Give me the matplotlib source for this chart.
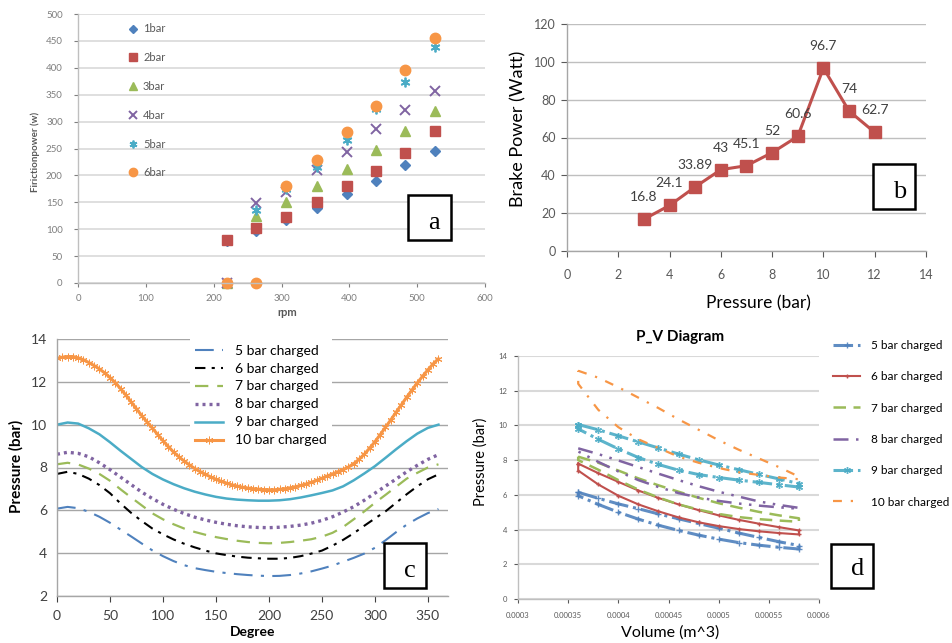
import matplotlib
matplotlib.use('Agg')
import matplotlib.pyplot as plt
from matplotlib.patches import Rectangle

plt.rcParams['font.family'] = ['Lato', 'DejaVu Sans']

# ---------------- Panel a: friction power ----------------
rpm = [219, 263, 307, 352, 396, 439, 482, 526]
fp_1bar = [78, 96, 117, 140, 165, 189, 219, 245]
fp_2bar = [80, 102, 122, 150, 181, 208, 241, 283]
fp_3bar = [0, 125, 151, 180, 212, 247, 282, 320]
fp_4bar = [0, 148, 170, 210, 243, 286, 321, 357]
fp_5bar = [0, 135, 174, 215, 265, 324, 373, 439]
fp_6bar = [0, 0, 181, 228, 280, 329, 396, 456]
a_labels = ['1bar', '2bar', '3bar', '4bar', '5bar', '6bar']

# ---------------- Panel b: brake power ----------------
pressure_b = [3, 4, 5, 6, 7, 8, 9, 10, 11, 12]
brake_power = [16.8, 24.1, 33.89, 43, 45.1, 52, 60.6, 96.7, 74, 62.7]

# ---------------- Panel c: pressure vs crank angle ----------------
degree_10 = [0, 10, 20, 30, 40, 50, 60, 70, 80, 90, 100, 110, 120, 130, 140, 150,
             160, 170, 180, 190, 200, 210, 220, 230, 240, 250, 260, 270, 280, 290,
             300, 310, 320, 330, 340, 350, 360]
p5_bar = [6.08, 6.16, 6.10, 5.93, 5.70, 5.42, 5.10, 4.78, 4.45, 4.13, 3.86, 3.63, 3.44,
          3.30, 3.21, 3.13, 3.07, 3.02, 2.98, 2.95, 2.93, 2.94, 2.98, 3.05, 3.15, 3.28,
          3.42, 3.60, 3.78, 3.98, 4.25, 4.60, 4.98, 5.33, 5.62, 5.87, 6.06]
p6_bar = [7.70, 7.80, 7.70, 7.48, 7.18, 6.80, 6.32, 5.88, 5.50, 5.15, 4.88, 4.64, 4.44,
          4.27, 4.12, 3.99, 3.91, 3.84, 3.79, 3.76, 3.74, 3.74, 3.78, 3.86, 3.98, 4.12,
          4.35, 4.62, 4.93, 5.28, 5.62, 5.95, 6.35, 6.75, 7.12, 7.45, 7.68]
p7_bar = [8.15, 8.22, 8.14, 7.95, 7.70, 7.38, 6.98, 6.60, 6.23, 5.86, 5.58, 5.35, 5.15,
          4.99, 4.86, 4.75, 4.66, 4.58, 4.52, 4.48, 4.46, 4.48, 4.52, 4.58, 4.65, 4.77,
          4.95, 5.22, 5.58, 5.95, 6.35, 6.72, 7.10, 7.48, 7.75, 8.00, 8.15]
p8_bar = [8.62, 8.71, 8.66, 8.50, 8.22, 7.90, 7.55, 7.20, 6.85, 6.55, 6.28, 6.05, 5.85,
          5.68, 5.55, 5.44, 5.35, 5.28, 5.23, 5.20, 5.19, 5.21, 5.25, 5.31, 5.40, 5.53,
          5.70, 5.92, 6.17, 6.47, 6.80, 7.13, 7.46, 7.80, 8.10, 8.38, 8.60]
p9_bar = [10.00, 10.10, 10.05, 9.83, 9.55, 9.18, 8.78, 8.40, 8.02, 7.70, 7.44, 7.22, 7.03,
          6.87, 6.74, 6.63, 6.55, 6.50, 6.47, 6.45, 6.45, 6.47, 6.52, 6.60, 6.70, 6.81,
          6.93, 7.12, 7.40, 7.72, 8.06, 8.45, 8.85, 9.23, 9.58, 9.85, 10.00]
degree_5 = [0, 5, 10, 15, 20, 25, 30, 35, 40, 45, 50, 55, 60, 65, 70, 75, 80, 85, 90, 95,
            100, 105, 110, 115, 120, 125, 130, 135, 140, 145, 150, 155, 160, 165, 170,
            175, 180, 185, 190, 195, 200, 205, 210, 215, 220, 225, 230, 235, 240, 245,
            250, 255, 260, 265, 270, 275, 280, 285, 290, 295, 300, 305, 310, 315, 320,
            325, 330, 335, 340, 345, 350, 355, 360]
p10_bar = [13.10, 13.15, 13.18, 13.18, 13.12, 13.03, 12.90, 12.76, 12.60, 12.42, 12.20,
           11.96, 11.68, 11.38, 11.06, 10.74, 10.42, 10.12, 9.84, 9.54, 9.25, 8.98, 8.72,
           8.50, 8.30, 8.12, 7.95, 7.81, 7.68, 7.56, 7.45, 7.35, 7.27, 7.19, 7.13, 7.08,
           7.04, 7.01, 6.99, 6.97, 6.96, 6.96, 6.98, 7.01, 7.05, 7.10, 7.16, 7.23, 7.31,
           7.40, 7.50, 7.60, 7.70, 7.80, 7.90, 8.02, 8.18, 8.38, 8.62, 8.90, 9.20, 9.53,
           9.88, 10.22, 10.58, 10.93, 11.28, 11.62, 11.95, 12.26, 12.56, 12.84, 13.08]
c_labels = ['5 bar charged', '6 bar charged', '7 bar charged', '8 bar charged',
            '9 bar charged', '10 bar charged']

# ---------------- Panel d: P-V diagram ----------------
volume = [0.00036, 0.00038, 0.00040, 0.00042, 0.00044, 0.00046, 0.00048, 0.00050,
          0.00052, 0.00054, 0.00056, 0.00058]
pv5_upper = [6.15, 5.80, 5.48, 5.20, 4.90, 4.62, 4.35, 4.08, 3.80, 3.55, 3.30, 3.08]
pv5_lower = [5.95, 5.45, 5.00, 4.60, 4.25, 3.95, 3.68, 3.45, 3.25, 3.10, 2.98, 2.88]
pv6_upper = [7.80, 7.25, 6.75, 6.25, 5.82, 5.45, 5.12, 4.82, 4.56, 4.34, 4.14, 3.95]
pv6_lower = [7.40, 6.60, 5.95, 5.45, 5.05, 4.70, 4.42, 4.20, 4.03, 3.90, 3.80, 3.72]
pv7_upper = [8.20, 7.85, 7.40, 6.95, 6.55, 6.18, 5.83, 5.52, 5.26, 5.02, 4.82, 4.65]
pv7_lower = [8.00, 7.45, 6.85, 6.30, 5.85, 5.45, 5.15, 4.90, 4.72, 4.60, 4.52, 4.45]
pv8_upper = [8.68, 8.35, 7.98, 7.60, 7.22, 6.85, 6.50, 6.18, 5.90, 5.62, 5.42, 5.25]
pv8_lower = [8.50, 7.90, 7.35, 6.85, 6.45, 6.10, 5.85, 5.65, 5.50, 5.38, 5.28, 5.20]
pv9_upper = [10.05, 9.75, 9.40, 9.05, 8.70, 8.35, 8.02, 7.72, 7.45, 7.18, 6.92, 6.65]
pv9_lower = [9.80, 9.20, 8.65, 8.15, 7.75, 7.42, 7.17, 7.00, 6.85, 6.72, 6.58, 6.45]
pv10_upper = [13.15, 12.75, 12.20, 11.60, 11.00, 10.35, 9.75, 9.15, 8.60, 8.10, 7.60, 7.05]
pv10_lower = [12.40, 10.90, 9.90, 9.20, 8.70, 8.20, 7.85, 7.55, 7.30, 7.15, 7.00, 6.90]
d_xticks = [0.0003, 0.00035, 0.0004, 0.00045, 0.0005, 0.00055, 0.0006]
d_xticklabels = ['0.0003', '0.00035', '0.0004', '0.00045', '0.0005', '0.00055', '0.0006']

# ---------------- figure ----------------
W, H = 953, 643
fig = plt.figure(figsize=(W / 100, H / 100), dpi=100)


def add_ax(l, t, r, b):
    return fig.add_axes([l / W, 1 - b / H, (r - l) / W, (b - t) / H])


def style_axes(ax, grid_color, spine_color, lw=1.0):
    ax.set_axisbelow(True)
    ax.grid(axis='y', color=grid_color, lw=lw)
    ax.grid(axis='x', visible=False)
    for s in ['top', 'right']:
        ax.spines[s].set_visible(False)
    for s in ['left', 'bottom']:
        ax.spines[s].set_color(spine_color)
        ax.spines[s].set_linewidth(1.0)


# ----- Panel a -----
axa = add_ax(78, 14, 485, 283)
a_series = [fp_1bar, fp_2bar, fp_3bar, fp_4bar, fp_5bar, fp_6bar]
a_styles = [('D', '#4F81BD', 5.5, 1.0), ('s', '#C0504D', 7, 1.0), ('^', '#9BBB59', 7, 1.0),
            ('x', '#8064A2', 7, 1.4), ((6, 2, 0), '#4BACC6', 7, 1.3), ('o', '#F79646', 7.5, 1.0)]
for vals, lab, (mk, col, ms, mew) in zip(a_series, a_labels, a_styles):
    axa.plot(rpm, vals, ls='none', marker=mk, color=col, ms=ms, mew=mew, label=lab,
             clip_on=False)
axa.set_xlim(0, 600)
axa.set_ylim(0, 500)
axa.set_xticks([0, 100, 200, 300, 400, 500, 600])
axa.set_yticks([0, 50, 100, 150, 200, 250, 300, 350, 400, 450, 500])
style_axes(axa, '#D9D9D9', '#BFBFBF', 1.2)
axa.tick_params(labelsize=7, colors='#7F7F7F', length=3, width=0.8)
axa.tick_params(axis='y', pad=8)
axa.tick_params(axis='x', pad=5)
axa.set_ylabel('Firictionpower (w)', fontsize=7, fontweight='bold', color='#595959')
axa.yaxis.set_label_coords(-0.106, 0.487)
axa.yaxis.label.set_va('center')
axa.set_xlabel('rpm', fontsize=8, fontweight='bold', color='#595959')
axa.xaxis.set_label_coords(0.513, -0.108)
axa.xaxis.label.set_va('center')
axa.legend(loc='upper left', bbox_to_anchor=(0.123, 0.965), frameon=False, fontsize=8,
           labelspacing=1.6, handlelength=0.9, handletextpad=0.45, borderpad=0,
           borderaxespad=0, labelcolor='#595959', markerscale=0.8)

# ----- Panel b -----
axb = add_ax(567, 24, 926, 251)
axb.plot(pressure_b, brake_power, color='#C0504D', lw=2.2, marker='s', ms=8)
for x, v in zip(pressure_b, brake_power):
    axb.annotate(f'{v:g}', (x, v), xytext=(0, 22), textcoords='offset pixels',
                 ha='center', va='center', fontsize=10, color='#404040')
axb.set_xlim(0, 14)
axb.set_ylim(0, 120)
axb.set_xticks([0, 2, 4, 6, 8, 10, 12, 14])
axb.set_yticks([0, 20, 40, 60, 80, 100, 120])
style_axes(axb, '#BFBFBF', '#A6A6A6', 1.0)
axb.tick_params(labelsize=9, colors='#595959', length=4, width=0.8)
axb.tick_params(axis='x', pad=9)
axb.tick_params(axis='y', pad=4)
axb.set_ylabel('Brake Power (Watt)', fontsize=13)
axb.yaxis.set_label_coords(-0.136, 0.537)
axb.yaxis.label.set_va('center')
axb.set_xlabel('Pressure (bar)', fontsize=12.5)
axb.xaxis.set_label_coords(0.532, -0.229)
axb.xaxis.label.set_va('center')

# ----- Panel c -----
axc = add_ax(57, 339, 448, 596)
c_series = [(degree_10, p5_bar), (degree_10, p6_bar), (degree_10, p7_bar),
            (degree_10, p8_bar), (degree_10, p9_bar), (degree_5, p10_bar)]
c_styles = [dict(color='#4F81BD', lw=1.5, ls=(0, (9, 4, 1.5, 4))),
            dict(color='black', lw=1.5, ls=(0, (5, 3, 1.5, 3))),
            dict(color='#9BBB59', lw=1.6, ls=(0, (6, 4))),
            dict(color='#8064A2', lw=2.4, ls=(0, (0.9, 1.2))),
            dict(color='#4BACC6', lw=1.8, ls='-'),
            dict(color='#F79646', lw=2.2, ls='-', marker=(6, 2, 0), ms=5.5, mew=0.7)]
for (xs, ys), lab, st in zip(c_series, c_labels, c_styles):
    axc.plot(xs, ys, label=lab, **st)
axc.set_xlim(0, 369)
axc.set_ylim(2, 14)
axc.set_xticks([0, 50, 100, 150, 200, 250, 300, 350])
axc.set_yticks([2, 4, 6, 8, 10, 12, 14])
style_axes(axc, '#A6A6A6', '#A6A6A6', 1.0)
axc.tick_params(labelsize=10, colors='#404040', length=4, width=0.8)
axc.tick_params(axis='x', pad=6)
axc.tick_params(axis='y', pad=7, length=0)
axc.set_ylabel('Pressure (bar)', fontsize=11, fontweight='bold')
axc.yaxis.set_label_coords(-0.105, 0.506)
axc.yaxis.label.set_va('center')
axc.set_xlabel('Degree', fontsize=10, fontweight='bold')
axc.xaxis.set_label_coords(0.501, -0.14)
axc.xaxis.label.set_va('center')
legc = axc.legend(loc='upper left', bbox_to_anchor=(0.339, 1.0), fontsize=10,
                  frameon=True, fancybox=False, edgecolor='none', facecolor='white',
                  framealpha=1, labelspacing=0.43, handlelength=2.0, handletextpad=0.85,
                  borderpad=0.4, borderaxespad=0)

# ----- Panel d -----
axd = add_ax(518, 356, 819, 599)
d_series = [(pv5_upper, pv5_lower), (pv6_upper, pv6_lower), (pv7_upper, pv7_lower),
            (pv8_upper, pv8_lower), (pv9_upper, pv9_lower), (pv10_upper, pv10_lower)]
d_styles = [dict(color='#4F81BD', lw=2.2, ls='-.', marker='+', ms=4, alpha=0.9),
            dict(color='#C0504D', lw=1.5, ls='-', marker='+', ms=3.5),
            dict(color='#9BBB59', lw=1.8, ls=(0, (5, 3))),
            dict(color='#8064A2', lw=1.8, ls=(0, (6, 3, 1, 3, 1, 3))),
            dict(color='#4BACC6', lw=2.2, ls='-.', marker=(6, 2, 0), ms=5, alpha=0.9),
            dict(color='#F79646', lw=1.6, ls=(0, (4, 4, 1, 4)))]
for (up, lo), lab, st in zip(d_series, c_labels, d_styles):
    xs = volume + volume[::-1] + [volume[0]]
    ys = up + lo[::-1] + [up[0]]
    axd.plot(xs, ys, label=lab, **st)
axd.set_xlim(0.0003, 0.0006)
axd.set_ylim(0, 14)
axd.set_xticks(d_xticks)
axd.set_xticklabels(d_xticklabels)
axd.set_yticks([0, 2, 4, 6, 8, 10, 12, 14])
style_axes(axd, '#D9D9D9', '#BFBFBF', 1.5)
axd.tick_params(labelsize=5.5, colors='#595959', length=3, width=0.8)
axd.tick_params(axis='x', pad=6)
axd.tick_params(axis='y', pad=5)
axd.set_ylabel('Pressure (bar)', fontsize=10.5)
axd.yaxis.set_label_coords(-0.126, 0.566)
axd.yaxis.label.set_va('center')
axd.set_xlabel('Volume (m^3)', fontsize=11.5)
axd.xaxis.set_label_coords(0.505, -0.136)
axd.xaxis.label.set_va('center')
axd.text(0.538, 1.078, 'P_V Diagram', transform=axd.transAxes, ha='center', va='center',
         fontsize=11, fontweight='bold')
fig.legend(*axd.get_legend_handles_labels(), loc='upper left',
           bbox_to_anchor=(833 / W, 1 - 340 / H), frameon=False, fontsize=8.5,
           labelspacing=1.72, handlelength=2.3, handletextpad=0.9, borderpad=0,
           borderaxespad=0)

# ----- letter boxes -----
boxes = [('a', 408, 195, 451, 240, 434, 223), ('b', 873, 164, 915, 209, 900, 192),
         ('c', 384, 543, 426, 588, 410, 571), ('d', 831, 544, 873, 588, 858, 569)]
for letter, l, t, r, b, tx, ty in boxes:
    fig.patches.append(Rectangle((l / W, 1 - b / H), (r - l) / W, (b - t) / H,
                                 transform=fig.transFigure, facecolor='white',
                                 edgecolor='black', lw=1.8, zorder=5))
    fig.text(tx / W, 1 - ty / H, letter, ha='center', va='center', fontsize=19,
             family=['Liberation Serif', 'DejaVu Serif'], zorder=6)

fig.savefig('out.png', dpi=100)
